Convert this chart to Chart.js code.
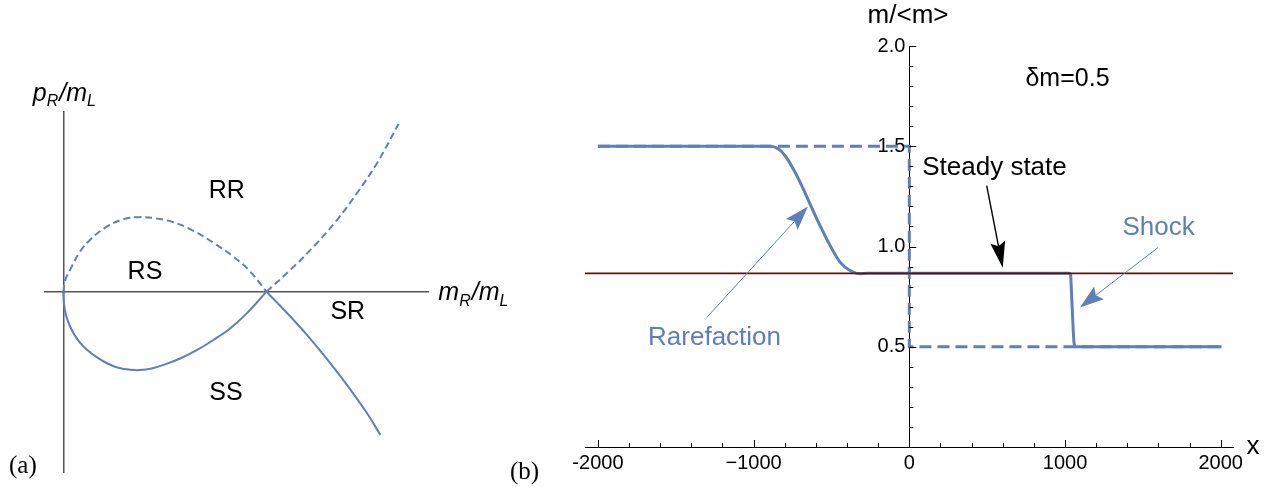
<!DOCTYPE html>
<html>
<head>
<meta charset="utf-8">
<script src="https://cdn.jsdelivr.net/npm/chart.js@4.4.1/dist/chart.umd.min.js"></script>
<style>
  body { margin: 0; background: #fff; width: 1275px; height: 487px; position: relative; overflow: hidden; }
  #chartA { position: absolute; left: 0; top: 0; }
  #chartB { position: absolute; left: 520px; top: 0; }
  .tag { position: absolute; font-family: "Liberation Serif", serif; font-size: 25px; color: #000; }
</style>
</head>
<body>
<canvas id="chartA" width="520" height="487"></canvas>
<canvas id="chartB" width="755" height="487"></canvas>
<div class="tag" style="left:9px;top:451px">(a)</div>
<div class="tag" style="left:510px;top:457px">(b)</div>
<script>
// panel (a): region boundaries in the (mR/mL, pR/mL) plane
const rareLeftX = [0, 0.010, 0.033, 0.082, 0.131, 0.214, 0.296, 0.369, 0.443, 0.542, 0.640, 0.739, 0.838, 0.920, 1.0];
const rareLeftY = [0, 0.058, 0.107, 0.197, 0.255, 0.320, 0.357, 0.367, 0.363, 0.342, 0.300, 0.241, 0.172, 0.099, 0];
const rareRightX = [1.0, 1.117, 1.232, 1.347, 1.445, 1.544, 1.650];
const rareRightY = [0, 0.107, 0.222, 0.353, 0.485, 0.633, 0.826];
const shockLeftX = [0, 0.003, 0.013, 0.030, 0.053, 0.082, 0.118, 0.161, 0.210, 0.266, 0.329, 0.378, 0.435, 0.501, 0.575, 0.657, 0.739, 0.821, 0.903, 1.0];
const shockLeftY = [0, -0.056, -0.114, -0.164, -0.209, -0.251, -0.287, -0.320, -0.350, -0.373, -0.384, -0.386, -0.378, -0.358, -0.329, -0.288, -0.238, -0.181, -0.107, 0];
const shockRightX = [1.0, 1.098, 1.197, 1.295, 1.394, 1.492, 1.561];
const shockRightY = [0, -0.101, -0.210, -0.328, -0.456, -0.594, -0.706];
const regionNames = ['RR', 'RS', 'SR', 'SS'];

// panel (b): m/<m> profiles
const xNow = [-2000, -895, -842, -799, -745, -691, -638, -574, -509, -445, -381, -317, -274, 1025, 1036, 1040, 1058, 1066, 2005];
const mNow = [1.5, 1.5, 1.487, 1.454, 1.387, 1.304, 1.213, 1.105, 1.005, 0.922, 0.880, 0.864, 0.866, 0.866, 0.86, 0.80, 0.52, 0.5, 0.5];
const xInit = [-2000, 0, 0, 2000];
const mInit = [1.5, 1.5, 0.5, 0.5];
const xSteady = [-2083, 2079];
const mSteady = [0.866, 0.866];
const xTickValues = [-2000, -1000, 0, 1000, 2000];
const xTickText = ['-2000', '\u22121000', '0', '1000', '2000'];
const yTickValues = [0.5, 1.0, 1.5, 2.0];
const yTickText = ['0.5', '1.0', '1.5', '2.0'];

const blue = '#5e81b5';
const sans = '"Liberation Sans", Arial, sans-serif';

const pts = (xs, ys) => xs.map((x, i) => ({x: x, y: ys[i]}));

// draws text with subscripts, parts = [[text, isSub], ...]
function subText(ctx, parts, x, y, size) {
  let cx = x;
  parts.forEach(([t, sub]) => {
    ctx.font = 'italic ' + (sub ? Math.round(size * 0.64) : size) + 'px ' + sans;
    ctx.fillText(t, cx, sub ? y + size * 0.22 : y);
    cx += ctx.measureText(t).width + (sub ? 1 : 0);
  });
}

function arrow(ctx, x1, y1, x2, y2, color, lw, len, half) {
  const a = Math.atan2(y2 - y1, x2 - x1);
  const c = Math.cos(a), s = Math.sin(a);
  const bx = x2 - len * c, by = y2 - len * s;
  ctx.strokeStyle = color;
  ctx.fillStyle = color;
  ctx.lineWidth = lw;
  ctx.beginPath();
  ctx.moveTo(x1, y1);
  ctx.lineTo(bx + 4 * c, by + 4 * s);
  ctx.stroke();
  ctx.beginPath();
  ctx.moveTo(x2, y2);
  ctx.lineTo(bx - half * s, by + half * c);
  ctx.lineTo(bx + 4 * c, by + 4 * s);
  ctx.lineTo(bx + half * s, by - half * c);
  ctx.closePath();
  ctx.fill();
}

const labelsA = {
  id: 'labelsA',
  afterDraw(chart) {
    const {ctx, scales: {x, y}} = chart;
    const spots = [[0.805, 0.496], [0.402, 0.098], [1.40, -0.101], [0.801, -0.500]];
    ctx.save();
    ctx.fillStyle = '#000';
    ctx.textAlign = 'center';
    ctx.textBaseline = 'middle';
    ctx.font = '25px ' + sans;
    regionNames.forEach((n, i) => ctx.fillText(n, x.getPixelForValue(spots[i][0]), y.getPixelForValue(spots[i][1])));
    ctx.textAlign = 'left';
    ctx.textBaseline = 'alphabetic';
    subText(ctx, [['p', false], ['R', true], ['/', false], ['m', false], ['L', true]],
      x.getPixelForValue(-0.15), y.getPixelForValue(0.941), 25);
    subText(ctx, [['m', false], ['R', true], ['/', false], ['m', false], ['L', true]],
      x.getPixelForValue(1.846), y.getPixelForValue(-0.041), 25);
    ctx.restore();
  }
};

const lineA = (xs, ys, dashed) => ({
  data: pts(xs, ys),
  borderColor: blue,
  borderWidth: 2,
  borderDash: dashed ? [7, 4] : [],
  pointRadius: 0,
  tension: 0.4
});

new Chart(document.getElementById('chartA'), {
  type: 'line',
  data: {
    datasets: [
      lineA(rareLeftX, rareLeftY, true),
      lineA(rareRightX, rareRightY, true),
      lineA(shockLeftX, shockLeftY, false),
      lineA(shockRightX, shockRightY, false)
    ]
  },
  options: {
    responsive: false,
    animation: false,
    events: [],
    layout: {padding: {left: 45, right: 92, top: 112, bottom: 15}},
    plugins: {legend: {display: false}, tooltip: {enabled: false}},
    scales: {
      x: {
        type: 'linear', min: -0.09, max: 1.795, position: {y: 0},
        ticks: {display: false}, grid: {display: false},
        border: {color: '#555', width: 1.5}
      },
      y: {
        type: 'linear', min: -0.888, max: 0.885, position: {x: 0},
        ticks: {display: false}, grid: {display: false},
        border: {color: '#555', width: 1.5}
      }
    }
  },
  plugins: [labelsA]
});

// panel (b) tick marks point inward, like the original
const tickMarks = {
  id: 'tickMarks',
  afterDraw(chart) {
    const {ctx, scales: {x, y}} = chart;
    const x0 = x.getPixelForValue(0), y0 = y.getPixelForValue(0);
    ctx.save();
    ctx.strokeStyle = '#000';
    ctx.lineWidth = 1;
    ctx.beginPath();
    x.ticks.forEach(t => {
      const r = t.value / 200;
      if (Math.abs(r - Math.round(r)) > 1e-6) return;
      const px = Math.round(x.getPixelForValue(t.value)) + 0.5;
      const len = Math.abs(t.value / 1000 - Math.round(t.value / 1000)) < 1e-6 ? 7 : 4;
      ctx.moveTo(px, y0);
      ctx.lineTo(px, y0 - len);
    });
    y.ticks.forEach(t => {
      if (t.value <= 0) return;
      const py = Math.round(y.getPixelForValue(t.value)) + 0.5;
      const len = Math.abs(t.value * 2 - Math.round(t.value * 2)) < 1e-6 ? 7 : 4;
      ctx.moveTo(x0, py);
      ctx.lineTo(x0 + len, py);
    });
    ctx.stroke();
    ctx.restore();
  }
};

const notesB = {
  id: 'notesB',
  afterDraw(chart) {
    const {ctx, scales: {x, y}} = chart;
    const P = (a, b) => [x.getPixelForValue(a), y.getPixelForValue(b)];
    ctx.save();
    ctx.textAlign = 'center';
    ctx.textBaseline = 'middle';
    const txt = (s, a, b, color, size) => {
      const [px, py] = P(a, b);
      ctx.fillStyle = color;
      ctx.font = size + 'px ' + sans;
      ctx.fillText(s, px, py);
    };
    txt('m/<m>', -8, 2.152, '#000', 26);
    txt('x', 2207, 0.0, '#000', 26);
    txt('\u03b4m=0.5', 1016, 1.837, '#000', 25);
    txt('Steady state', 547, 1.394, '#000', 26);
    txt('Shock', 1601, 1.095, blue, 26);
    txt('Rarefaction', -1251, 0.546, blue, 26);
    arrow(ctx, ...P(497, 1.304), ...P(600, 0.894), '#000', 1.4, 26, 7.5);
    arrow(ctx, ...P(1598, 0.995), ...P(1096, 0.696), blue, 1, 24, 8);
    arrow(ctx, ...P(-1300, 0.647), ...P(-651, 1.199), blue, 1, 24, 8);
    ctx.restore();
  }
};

const pickLabel = (vals, text, pad) => v => {
  const i = vals.findIndex(t => Math.abs(t - v) < 1e-6);
  return i < 0 ? '' : text[i] + pad;
};

new Chart(document.getElementById('chartB'), {
  type: 'line',
  data: {
    datasets: [
      {
        data: pts(xSteady, mSteady), borderColor: '#5a1414', borderWidth: 1.6,
        pointRadius: 0, order: 0
      },
      {
        data: pts(xNow, mNow), borderColor: blue, borderWidth: 3,
        pointRadius: 0, cubicInterpolationMode: 'monotone', order: 1
      },
      {
        data: pts(xInit, mInit), borderColor: blue, borderWidth: 3, borderDash: [12, 6],
        pointRadius: 0, order: 2
      }
    ]
  },
  options: {
    responsive: false,
    animation: false,
    events: [],
    layout: {padding: {left: 65, right: 42, top: 46, bottom: 40}},
    plugins: {legend: {display: false}, tooltip: {enabled: false}},
    scales: {
      x: {
        type: 'linear', min: -2083, max: 2079, position: {y: 0}, z: 1,
        grid: {display: false, drawTicks: false, tickLength: 0},
        border: {color: '#000', width: 1},
        ticks: {
          stepSize: 100, autoSkip: false, includeBounds: false, maxRotation: 0, padding: 4,
          color: '#000', font: {family: sans, size: 20},
          callback: pickLabel(xTickValues, xTickText, '')
        }
      },
      y: {
        type: 'linear', min: 0, max: 2, position: {x: 0}, z: 1,
        grid: {display: false, drawTicks: false, tickLength: 0},
        border: {color: '#000', width: 1},
        ticks: {
          stepSize: 0.1, autoSkip: false, padding: 4,
          color: '#000', font: {family: sans, size: 20},
          callback: pickLabel(yTickValues, yTickText, '\u2009')
        }
      }
    }
  },
  plugins: [tickMarks, notesB]
});
</script>
</body>
</html>
